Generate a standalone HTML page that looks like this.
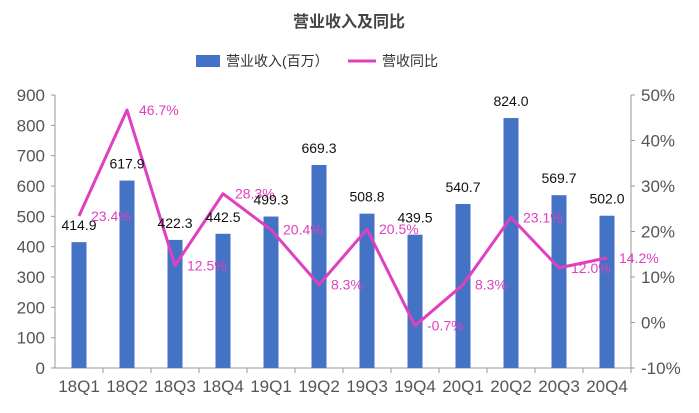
<!DOCTYPE html>
<html><head><meta charset="utf-8"><style>
body{margin:0;background:#fff;}
svg text{font-family:"Liberation Sans","Noto Sans CJK SC",sans-serif;}
</style></head><body>
<svg width="699" height="408" viewBox="0 0 699 408">
<text x="349" y="27" text-anchor="middle" font-size="16" font-weight="bold" fill="#444">营业收入及同比</text>
<g>
<rect x="196" y="55" width="24" height="12" fill="#4472c4"></rect>
<text x="226" y="66" font-size="14" fill="#333">营业收入(百万）</text>
<line x1="348" y1="61" x2="376" y2="61" stroke="#e040c0" stroke-width="3"></line>
<text x="382" y="66" font-size="14" fill="#333">营收同比</text>
</g>
<g id="axes"></g>
<g id="bars"></g>
<g id="line"></g>
<g id="labels"></g>
</svg>
<script>
const categories=["18Q1","18Q2","18Q3","18Q4","19Q1","19Q2","19Q3","19Q4","20Q1","20Q2","20Q3","20Q4"];
const revenue=[414.9,617.9,422.3,442.5,499.3,669.3,508.8,439.5,540.7,824.0,569.7,502.0];
const yoy=[23.4,46.7,12.5,28.3,20.4,8.3,20.5,-0.7,8.3,23.1,12.0,14.2];
const leftTicks=[0,100,200,300,400,500,600,700,800,900];
const rightTicks=[-10,0,10,20,30,40,50];
const NS="http://www.w3.org/2000/svg";
const L=55,R=631,T=95,B=368,cw=(R-L)/categories.length;
const xc=i=>L+cw*(i+0.5);
const yL=v=>B-(v/900)*(B-T);
const yR=v=>B-((v+10)/60)*(B-T);
function mk(tag,attrs,parent,txt){const e=document.createElementNS(NS,tag);for(const k in attrs)e.setAttribute(k,attrs[k]);if(txt!==undefined)e.textContent=txt;document.getElementById(parent).appendChild(e);return e;}
let e;
e=mk("line",{x1:L,y1:T,x2:L,y2:B,stroke:"#999"},"axes");


e=mk("line",{x1:R,y1:T,x2:R,y2:B,stroke:"#999"},"axes");


e=mk("line",{x1:L,y1:B,x2:R,y2:B,stroke:"#999"},"axes");


leftTicks.forEach(v=>{
 mk("line",{x1:L-4,y1:yL(v),x2:L,y2:yL(v),stroke:"#999"},"axes");
 e=mk("text",{x:L-10,y:yL(v)+6,"text-anchor":"end","font-size":"17",fill:"#555"},"axes",v);
 
 
});
rightTicks.forEach(v=>{
 mk("line",{x1:R,y1:yR(v),x2:R+4,y2:yR(v),stroke:"#999"},"axes");
 e=mk("text",{x:R+10,y:yR(v)+6,"font-size":"17",fill:"#555"},"axes",v+"%");
 
 
});
categories.forEach((c,i)=>{
 mk("line",{x1:L+cw*(i+1),y1:B,x2:L+cw*(i+1),y2:B+5,stroke:"#999"},"axes");
 e=mk("text",{x:xc(i),y:B+24,"text-anchor":"middle","font-size":"17",fill:"#555"},"axes",c);
 
 
 e=mk("rect",{x:xc(i)-7.5,y:yL(revenue[i]),width:15,height:B-yL(revenue[i]),fill:"#4472c4"},"bars");
 
 
 e=mk("text",{x:xc(i),y:yL(revenue[i])-12,"text-anchor":"middle","font-size":"14",fill:"#111"},"labels",revenue[i].toFixed(1));
 
 
 e=mk("text",{x:xc(i)+12,y:yR(yoy[i])+5,"font-size":"14",fill:"#e040c0"},"labels",yoy[i].toFixed(1)+"%");
 
 
});
e=mk("polyline",{points:yoy.map((v,i)=>xc(i)+","+yR(v)).join(" "),fill:"none",stroke:"#e040c0","stroke-width":"3","stroke-linejoin":"round"},"line");


</script>
</body></html>
